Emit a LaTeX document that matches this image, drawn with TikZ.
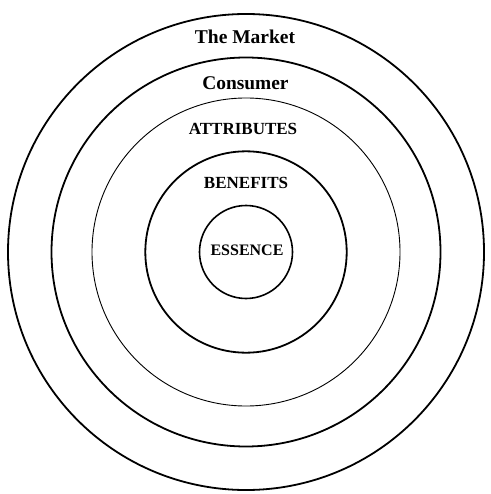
\documentclass[tikz,border=0pt]{standalone}
\usepackage{fontspec}
\setmainfont{Liberation Serif}
\usepackage{tikz}

\begin{document}
\begin{tikzpicture}[x=1pt, y=-1pt,
    ring/.style={black, line width=#1},
    layer/.style={font=\bfseries, inner sep=0pt, anchor=base}]
    \useasboundingbox (0, 0) rectangle (490, 494);
    \coordinate (centre) at (246, 252);
    \foreach \r/\w in {238/1.8pt, 194.5/1.8pt, 154/0.9pt, 100.7/1.8pt, 46.5/1.6pt}{
        \draw[ring=\w] (centre) circle[radius=\r];
    }
    \node[layer, font=\fontsize{19.5}{20}\bfseries] (market) at (245, 43.5) {The Market};
    \node[layer, font=\fontsize{19.4}{20}\bfseries] (consumer) at (245.5, 90) {Consumer};
    \node[layer, font=\fontsize{17}{18}\bfseries] (attributes) at (243, 135) {ATTRIBUTES};
    \node[layer, font=\fontsize{17}{18}\bfseries] (benefits) at (246, 189) {BENEFITS};
    \node[layer, font=\fontsize{16}{17}\bfseries] (essence) at (247, 255.5) {ESSENCE};
\end{tikzpicture}
\end{document}
